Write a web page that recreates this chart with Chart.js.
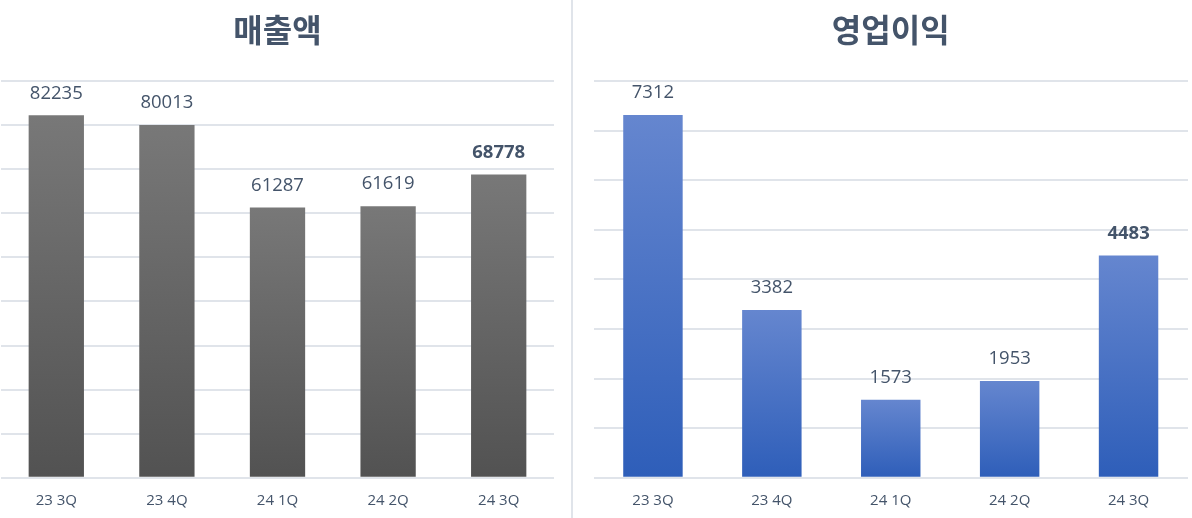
<!DOCTYPE html>
<html>
<head>
<meta charset="utf-8">
<script src="https://cdn.jsdelivr.net/npm/chart.js@4.4.1/dist/chart.umd.min.js"></script>
<style>
    html, body { margin: 0; padding: 0; background: #fff; overflow: hidden; }
    .wrap { position: absolute; top: 0; height: 515px; }
    #leftWrap { left: 0; width: 562px; }
    #rightWrap { left: 582px; width: 610px; }
    .divider { position: absolute; left: 571px; top: 0; width: 2px; height: 518px; background: #E0E4EA; }
</style>
</head>
<body>
<div class="wrap" id="leftWrap"><canvas id="salesChart"></canvas></div>
<div class="divider"></div>
<div class="wrap" id="rightWrap"><canvas id="profitChart"></canvas></div>
<script>
const quarters = ['23 3Q', '23 4Q', '24 1Q', '24 2Q', '24 3Q'];
const sales = [82235, 80013, 61287, 61619, 68778];
const profit = [7312, 3382, 1573, 1953, 4483];
const salesAxis = [0, 90000, 10000];   // min, max, step
const profitAxis = [0, 8000, 1000];

const textColor = '#44546A';
const gridColor = '#E0E4EA';

// bar fill: lighter at the top of each bar, darker at the baseline
const barGradient = (topColor, bottomColor) => (context) => {
    const chart = context.chart;
    if (!chart.chartArea || context.raw == null) return bottomColor;
    const y = chart.scales.y;
    const top = y.getPixelForValue(context.raw);
    const bottom = y.getPixelForValue(0);
    const g = chart.ctx.createLinearGradient(0, top, 0, bottom);
    g.addColorStop(0, topColor);
    g.addColorStop(1, bottomColor);
    return g;
};

// value labels above the bars, last one bold
const valueLabels = {
    id: 'valueLabels',
    afterDatasetsDraw(chart) {
        const ctx = chart.ctx;
        const meta = chart.getDatasetMeta(0);
        const values = chart.data.datasets[0].data;
        ctx.save();
        ctx.fillStyle = textColor;
        ctx.textAlign = 'center';
        ctx.textBaseline = 'middle';
        meta.data.forEach((bar, i) => {
            const bold = i === values.length - 1 ? 'bold ' : '';
            ctx.font = bold + '18.5px "Open Sans"';
            ctx.fillText(String(values[i]), bar.x, bar.y - 22);
        });
        ctx.restore();
    }
};

const makeChart = (id, title, values, axis, colors, padding) => {
    return new Chart(document.getElementById(id), {
        type: 'bar',
        data: {
            labels: quarters,
            datasets: [{
                data: values,
                backgroundColor: barGradient(colors[0], colors[1]),
                categoryPercentage: 1,
                barPercentage: 0.5
            }]
        },
        options: {
            responsive: true,
            maintainAspectRatio: false,
            animation: false,
            layout: { padding: padding },
            plugins: {
                legend: { display: false },
                tooltip: { enabled: false },
                title: {
                    display: true,
                    text: title,
                    color: textColor,
                    font: { family: '"Noto Sans CJK KR"', size: 32, weight: 'bold' },
                    padding: { top: 11, bottom: 31.6 }
                }
            },
            scales: {
                x: {
                    grid: { display: false },
                    border: { display: false },
                    ticks: {
                        color: textColor,
                        font: { family: '"Open Sans"', size: 15 },
                        padding: 5.6
                    }
                },
                y: {
                    min: axis[0],
                    max: axis[1],
                    ticks: { display: false, stepSize: axis[2] },
                    grid: { color: gridColor, lineWidth: 2, drawTicks: false },
                    border: { display: false }
                }
            }
        },
        plugins: [valueLabels]
    });
};

makeChart('salesChart', '매출액', sales, salesAxis, ['#787878', '#525252'],
    { left: 1, right: 8, top: 0, bottom: 0 });
makeChart('profitChart', '영업이익', profit, profitAxis, ['#6586CF', '#2E5EB9'],
    { left: 11.5, right: 4, top: 0, bottom: 0 });
</script>
</body>
</html>
